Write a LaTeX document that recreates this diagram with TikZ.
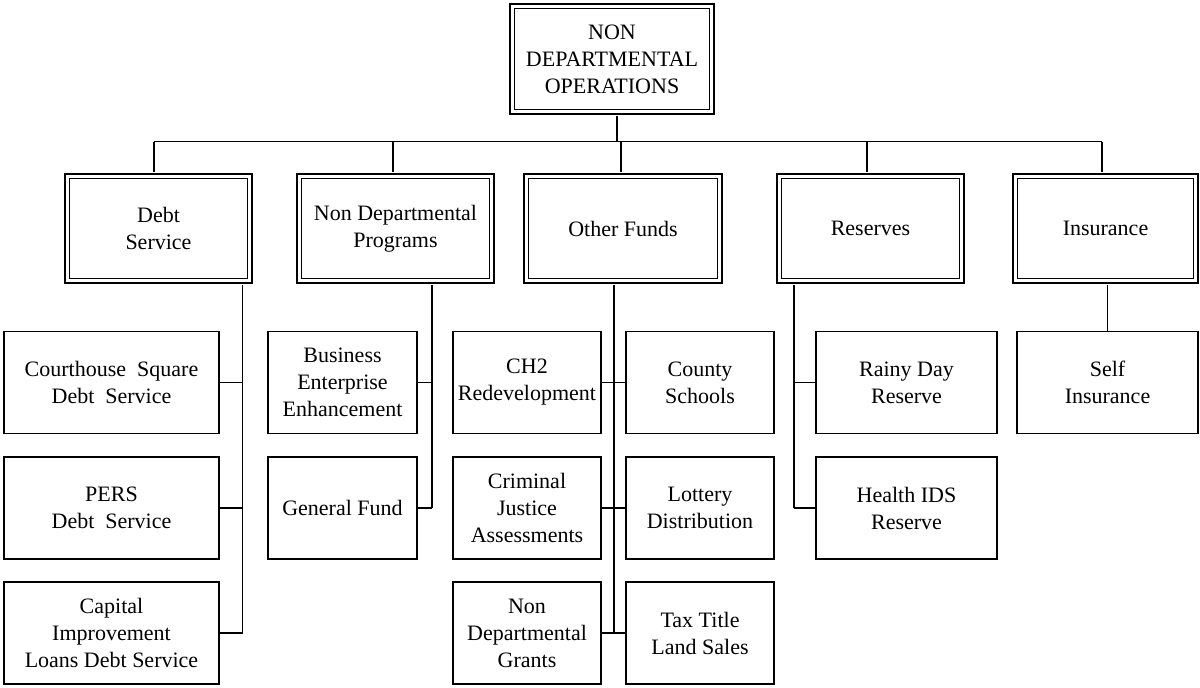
\documentclass[tikz,border=0pt]{standalone}
\usepackage{fontspec}
\setmainfont{Liberation Serif}
\usetikzlibrary{positioning}
\tikzset{
  headbox/.style={draw, double, double distance=3pt, line width=1.5pt, align=center, inner sep=2pt, minimum height=104.4pt},
  leafbox/.style={draw, line width=1.6pt, align=center, inner sep=2pt, minimum height=102pt},
  link/.style={line width=1.9pt}
}

\begin{document}
\begin{tikzpicture}[x=1pt, y=-1pt, every node/.style={font=\fontsize{22}{27}\selectfont}]
  \useasboundingbox (0,0) rectangle (1200,688);

  % Top
  \node[headbox, minimum width=199.4pt, minimum height=105.4pt] (root) at (612,59) {NON\\DEPARTMENTAL\\OPERATIONS};

  % Second level
  \node[headbox, minimum width=182.4pt] (debt) at (158.5,228.5) {Debt\\Service};
  \node[headbox, minimum width=192.4pt] (ndp) at (395.5,228.5) {Non Departmental\\Programs};
  \node[headbox, minimum width=193.4pt] (other) at (623,228.5) {Other Funds};
  \node[headbox, minimum width=182.4pt] (res) at (870.5,228.5) {Reserves};
  \node[headbox, minimum width=180.4pt] (ins) at (1105.5,228.5) {Insurance};

  % Debt Service
  \node[leafbox, minimum width=215pt] (courthouse) at (111.5,382.5) {Courthouse\ \ Square\\Debt\ \ Service};
  \node[leafbox, minimum width=215pt] (pers) at (111.5,508) {PERS\\Debt\ \ Service};
  \node[leafbox, minimum width=215pt] (capital) at (111.5,633) {Capital\\Improvement\\Loans Debt Service};

  % Non Departmental Programs
  \node[leafbox, minimum width=149pt] (business) at (342.5,382.5) {Business\\Enterprise\\Enhancement};
  \node[leafbox, minimum width=149pt] (general) at (342.5,508) {General Fund};

  % Other Funds
  \node[leafbox, minimum width=148pt] (ch2) at (527,382.5) {CH2\\Redevelopment};
  \node[leafbox, minimum width=148pt] (schools) at (700,382.5) {County\\Schools};
  \node[leafbox, minimum width=148pt] (criminal) at (527,508) {Criminal\\Justice\\Assessments};
  \node[leafbox, minimum width=148pt] (lottery) at (700,508) {Lottery\\Distribution};
  \node[leafbox, minimum width=148pt] (grants) at (527,633) {Non\\Departmental\\Grants};
  \node[leafbox, minimum width=148pt] (taxtitle) at (700,633) {Tax Title\\Land Sales};

  % Reserves
  \node[leafbox, minimum width=181pt] (rainy) at (906.5,382.5) {Rainy Day\\Reserve};
  \node[leafbox, minimum width=181pt] (health) at (906.5,508) {Health IDS\\Reserve};

  % Insurance
  \node[leafbox, minimum width=181pt] (self) at (1107.5,382.5) {Self\\Insurance};

  % Bus under the top box
  \coordinate (bus) at (617,141.5);
  \draw[link, shorten <=3.5pt] ([xshift=5pt]root.south) -- ([xshift=5pt]root.south |- bus);
  \draw[link] ([xshift=-4.5pt]debt.north |- bus) -- ([xshift=-3.5pt]ins.north |- bus);
  \foreach \n/\dx in {debt/-4.5,ndp/-2.5,other/-2,res/-3.5,ins/-3.5}
    \draw[link, shorten <=3.5pt] ([xshift=\dx pt]\n.north) -- ([xshift=\dx pt]\n.north |- bus);

  % Debt Service spine
  \coordinate (dspine) at (242.5,0);
  \draw[link, shorten <=3.5pt] (debt.south -| dspine) -- (dspine |- capital.east);
  \foreach \n in {courthouse,pers,capital}
    \draw[link] (\n.east) -- (\n.east -| dspine);

  % Non Departmental Programs spine
  \coordinate (nspine) at (432,0);
  \draw[link, shorten <=3.5pt] (ndp.south -| nspine) -- (nspine |- general.east);
  \foreach \n in {business,general}
    \draw[link] (\n.east) -- (\n.east -| nspine);

  % Other Funds spine
  \coordinate (ospine) at (614,0);
  \draw[link, shorten <=3.5pt] (other.south -| ospine) -- (ospine |- grants.east);
  \draw[link] (ch2.east) -- (schools.west);
  \draw[link] (criminal.east) -- (lottery.west);
  \draw[link] (grants.east) -- (taxtitle.west);

  % Reserves spine
  \coordinate (rspine) at (794,0);
  \draw[link, shorten <=3.5pt] (res.south -| rspine) -- (rspine |- health.west);
  \foreach \n in {rainy,health}
    \draw[link] (\n.west) -- (\n.west -| rspine);

  % Insurance
  \draw[link, shorten >=3.5pt] (self.north) -- (self.north |- ins.south);
\end{tikzpicture}
\end{document}
